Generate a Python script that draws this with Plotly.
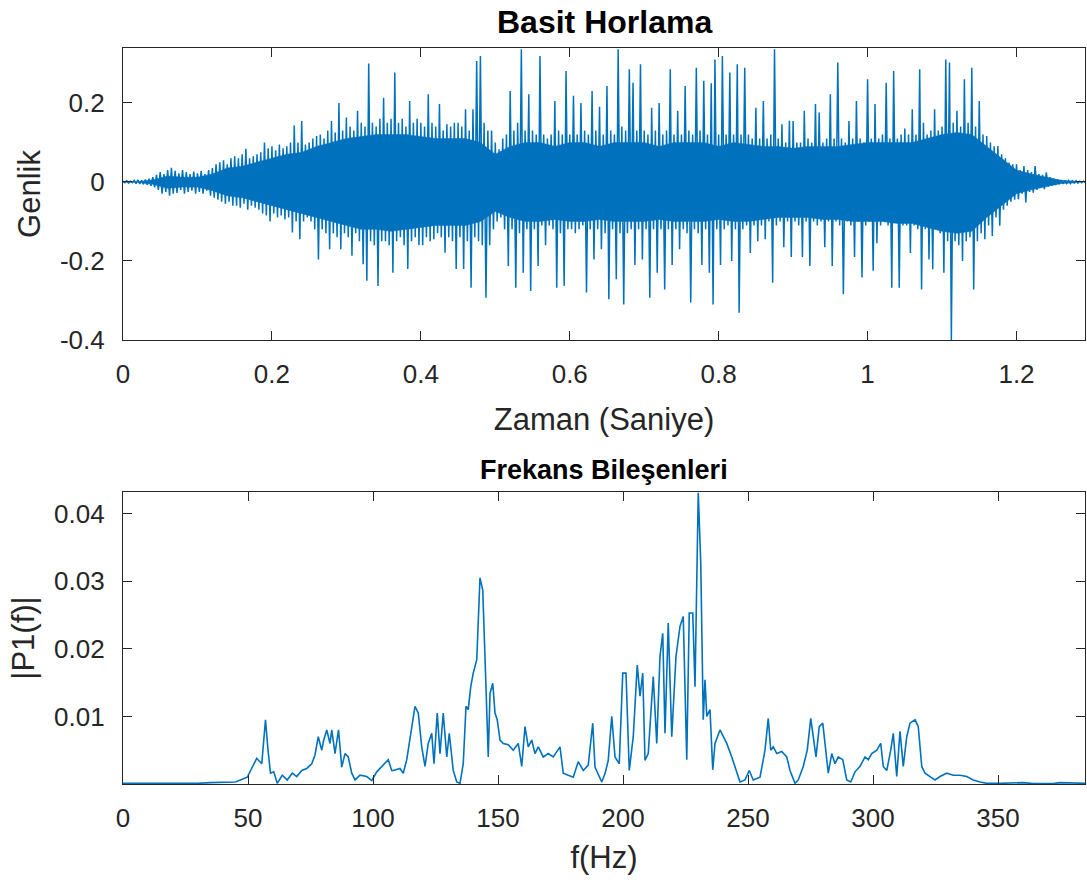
import plotly.graph_objects as go

# ---------------- data: time signal (per 0.005 s bin: upper and lower extreme) ----------------
dt = 0.005
sig_hi = [
    0.002, 0.003, 0.002, 0.004, 0.005, 0.004, 0.006, 0.008, 0.012, 0.018,
    0.025, 0.02, 0.03, 0.036, 0.028, 0.022, 0.03, 0.025, 0.02, 0.026,
    0.022, 0.028, 0.02, 0.03, 0.035, 0.045, 0.05, 0.055, 0.045, 0.06,
    0.065, 0.06, 0.07, 0.084, 0.06, 0.065, 0.07, 0.075, 0.10, 0.085,
    0.09, 0.08, 0.095, 0.085, 0.09, 0.1, 0.143, 0.1, 0.154, 0.095,
    0.1, 0.11, 0.116, 0.12, 0.11, 0.13, 0.154, 0.125, 0.20, 0.13,
    0.163, 0.14, 0.13, 0.18, 0.15, 0.14, 0.30, 0.15, 0.14, 0.16,
    0.213, 0.15, 0.16, 0.277, 0.15, 0.16, 0.14, 0.205, 0.15, 0.16,
    0.15, 0.14, 0.222, 0.15, 0.14, 0.197, 0.13, 0.146, 0.14, 0.15,
    0.15, 0.14, 0.184, 0.13, 0.184, 0.306, 0.319, 0.15, 0.13, 0.13,
    0.1, 0.083, 0.11, 0.12, 0.23, 0.13, 0.15, 0.336, 0.13, 0.222,
    0.13, 0.12, 0.319, 0.12, 0.11, 0.12, 0.205, 0.13, 0.12, 0.281,
    0.12, 0.218, 0.12, 0.2, 0.13, 0.12, 0.23, 0.13, 0.19, 0.12,
    0.243, 0.13, 0.12, 0.336, 0.14, 0.13, 0.285, 0.251, 0.13, 0.298,
    0.13, 0.12, 0.188, 0.13, 0.2, 0.12, 0.13, 0.285, 0.12, 0.18,
    0.12, 0.243, 0.13, 0.12, 0.289, 0.13, 0.256, 0.12, 0.25, 0.31,
    0.12, 0.319, 0.12, 0.277, 0.12, 0.298, 0.12, 0.289, 0.12, 0.11,
    0.188, 0.11, 0.205, 0.11, 0.12, 0.336, 0.11, 0.146, 0.1, 0.155,
    0.154, 0.1, 0.1, 0.18, 0.11, 0.1, 0.197, 0.176, 0.1, 0.11,
    0.222, 0.11, 0.302, 0.11, 0.1, 0.154, 0.11, 0.205, 0.11, 0.1,
    0.26, 0.11, 0.197, 0.11, 0.12, 0.251, 0.11, 0.281, 0.11, 0.12,
    0.135, 0.12, 0.184, 0.12, 0.285, 0.15, 0.12, 0.13, 0.184, 0.13,
    0.14, 0.31, 0.302, 0.15, 0.18, 0.14, 0.26, 0.15, 0.289, 0.14,
    0.205, 0.12, 0.116, 0.1, 0.09, 0.091, 0.07, 0.06, 0.049, 0.045,
    0.045, 0.03, 0.04, 0.03, 0.025, 0.04, 0.02, 0.018, 0.024, 0.012,
    0.008, 0.006, 0.005, 0.004, 0.004, 0.003, 0.003, 0.002, 0.002,
]
sig_lo = [
    -0.002, -0.003, -0.002, -0.004, -0.005, -0.006, -0.007, -0.01, -0.014, -0.02,
    -0.03, -0.025, -0.035, -0.03, -0.028, -0.02, -0.03, -0.025, -0.022, -0.03,
    -0.025, -0.03, -0.022, -0.035, -0.04, -0.045, -0.05, -0.055, -0.05, -0.06,
    -0.06, -0.065, -0.055, -0.07, -0.06, -0.065, -0.07, -0.08, -0.085, -0.10,
    -0.08, -0.09, -0.085, -0.095, -0.09, -0.128, -0.1, -0.145, -0.1, -0.09,
    -0.1, -0.12, -0.196, -0.12, -0.13, -0.17, -0.13, -0.14, -0.17, -0.13,
    -0.14, -0.187, -0.13, -0.15, -0.208, -0.25, -0.15, -0.16, -0.263, -0.15,
    -0.15, -0.16, -0.23, -0.15, -0.14, -0.16, -0.22, -0.15, -0.14, -0.16,
    -0.16, -0.14, -0.15, -0.145, -0.13, -0.14, -0.179, -0.14, -0.15, -0.22,
    -0.14, -0.22, -0.15, -0.268, -0.14, -0.15, -0.16, -0.293, -0.16, -0.12,
    -0.1, -0.09, -0.12, -0.213, -0.12, -0.268, -0.13, -0.23, -0.12, -0.276,
    -0.12, -0.213, -0.11, -0.16, -0.11, -0.12, -0.268, -0.13, -0.263, -0.12,
    -0.12, -0.13, -0.12, -0.11, -0.28, -0.12, -0.196, -0.12, -0.17, -0.13,
    -0.297, -0.12, -0.246, -0.13, -0.31, -0.13, -0.12, -0.21, -0.12, -0.196,
    -0.12, -0.293, -0.12, -0.23, -0.12, -0.272, -0.12, -0.21, -0.12, -0.17,
    -0.12, -0.13, -0.305, -0.12, -0.13, -0.21, -0.12, -0.23, -0.31, -0.12,
    -0.21, -0.12, -0.11, -0.2, -0.12, -0.331, -0.12, -0.11, -0.18, -0.11,
    -0.15, -0.11, -0.145, -0.1, -0.255, -0.11, -0.1, -0.165, -0.1, -0.19,
    -0.1, -0.11, -0.19, -0.1, -0.213, -0.1, -0.11, -0.1, -0.165, -0.1,
    -0.213, -0.1, -0.11, -0.284, -0.1, -0.11, -0.19, -0.1, -0.242, -0.11,
    -0.1, -0.225, -0.155, -0.11, -0.1, -0.11, -0.268, -0.1, -0.268, -0.11,
    -0.11, -0.18, -0.11, -0.12, -0.272, -0.12, -0.196, -0.221, -0.12, -0.13,
    -0.23, -0.15, -0.40, -0.15, -0.16, -0.2, -0.15, -0.14, -0.272, -0.15,
    -0.13, -0.145, -0.11, -0.137, -0.09, -0.111, -0.07, -0.06, -0.05, -0.045,
    -0.044, -0.03, -0.052, -0.025, -0.027, -0.02, -0.015, -0.018, -0.012, -0.01,
    -0.008, -0.006, -0.005, -0.004, -0.004, -0.003, -0.003, -0.002, -0.002,
]

# dense core of the waveform (where the oscillation is too fast to resolve), every 0.02 s
core_t = [round(0.02 * i, 2) for i in range(65)]
core_hi = [
    0.0, 0.001, 0.005, 0.015, 0.012, 0.012, 0.02, 0.035, 0.04, 0.05,
    0.06, 0.07, 0.075, 0.09, 0.1, 0.11, 0.115, 0.12, 0.12, 0.12,
    0.115, 0.11, 0.11, 0.11, 0.1, 0.07, 0.09, 0.1, 0.1, 0.09,
    0.1, 0.1, 0.09, 0.1, 0.1, 0.1, 0.09, 0.1, 0.1, 0.1,
    0.09, 0.1, 0.095, 0.09, 0.09, 0.085, 0.09, 0.09, 0.09, 0.095,
    0.1, 0.1, 0.1, 0.1, 0.11, 0.12, 0.125, 0.12, 0.09, 0.06,
    0.03, 0.02, 0.012, 0.004, 0.002,
]
core_lo = [
    0.0, -0.001, -0.006, -0.016, -0.013, -0.013, -0.022, -0.035, -0.04, -0.05,
    -0.06, -0.07, -0.08, -0.09, -0.1, -0.11, -0.12, -0.12, -0.125, -0.12,
    -0.115, -0.11, -0.11, -0.11, -0.1, -0.075, -0.09, -0.1, -0.1, -0.095,
    -0.1, -0.1, -0.095, -0.1, -0.1, -0.1, -0.095, -0.1, -0.1, -0.1,
    -0.095, -0.1, -0.1, -0.095, -0.09, -0.09, -0.09, -0.095, -0.095, -0.1,
    -0.1, -0.1, -0.105, -0.105, -0.115, -0.125, -0.13, -0.125, -0.09, -0.06,
    -0.03, -0.02, -0.012, -0.004, -0.002,
]

# ---------------- data: single-sided amplitude spectrum ----------------
spec_f = [
    0, 10, 20, 30, 35, 40, 45, 49.7, 52, 53.5, 55.5, 57, 58, 59, 60.3, 61.7, 63.7, 65.7,
    67.7, 69.5, 71.5, 73.5, 75.5, 76.8, 78.1, 79.5, 80.3, 81.5, 82.8, 83.5, 84.8, 86.2,
    87.5, 88.8, 90.1, 91.5, 92.8, 94.8, 97.5, 99.5, 101.5, 103.5, 105.5, 106.1, 107.5,
    108.1, 110.8, 112.1, 113.5, 115.5, 116.8, 118.1, 119.5, 120.8, 122.1, 123.5, 124.4,
    125.7, 126.8, 128.1, 129.5, 130.5, 132.1, 133.5, 134.8, 136.1, 137.2, 138.1, 139.1,
    140.1, 141.5, 142.8, 143.9, 145.1, 146.1, 146.8, 147.9, 148.8, 149.7, 150.8, 152.1,
    154.1, 156.1, 158.1, 159.5, 160.8, 162.1, 163.5, 164.8, 166.1, 168.1, 170.1, 172.1,
    174.8, 176.1, 178.1, 180.1, 182.1, 184.1, 186.1, 187.9, 188.8, 190.1, 191.5, 192.8,
    194.1, 195.5, 196.8, 198.5, 199.9, 201.2, 202.5, 204.1, 205.7, 206.8, 207.9, 208.8,
    210.1, 212.1, 213.5, 214.8, 215.9, 216.8, 218.1, 219.5, 221.2, 222.8, 224.1, 225.5,
    226.5, 227.9, 228.8, 230.1, 231.1, 232.1, 232.8, 233.5, 234.8, 235.9, 236.8, 238.8,
    240.1, 241.5, 243.5, 244.8, 246.8, 248.8, 250.5, 252.1, 254.8, 256.8, 258.1, 259.1,
    260.1, 261.5, 263.5, 265.5, 266.8, 268.8, 270.1, 272.1, 273.7, 275.1, 276.1, 277.2,
    278.5, 279.9, 280.8, 282.1, 283.5, 284.8, 286.1, 287.9, 289.5, 291.1, 292.8, 294.8,
    296.8, 298.1, 299.5, 301.5, 303.1, 304.1, 305.5, 307.1, 308.1, 309.5, 310.8, 312.1,
    313.5, 314.8, 316.8, 318.1, 319.5, 320.8, 322.8, 324.8, 326.8, 329.5, 332.1, 334.8,
    337.5, 340.1, 342.8, 345.5, 350.8, 356.1, 360.1, 364.1, 372.1, 374.8, 380.1, 384.8,
]
spec_v = [
    0.0001, 0.0001, 0.00005, 0.0001, 0.0002, 0.0002, 0.0003, 0.001, 0.0026, 0.0038, 0.003,
    0.0095, 0.005, 0.0016, 0.0018, 0.0001, 0.0013, 0.0006,
    0.0016, 0.0011, 0.002, 0.0023, 0.003, 0.0043, 0.007, 0.005, 0.0065, 0.008, 0.006, 0.008,
    0.0045, 0.008,
    0.0025, 0.0045, 0.004, 0.0016, 0.0006, 0.0013, 0.0011, 0.0005, 0.0018, 0.0026, 0.0033,
    0.0036, 0.002,
    0.002, 0.0023, 0.0016, 0.0036, 0.008, 0.0115, 0.0105, 0.0055, 0.0026, 0.006, 0.0075,
    0.003,
    0.0105, 0.0045, 0.0105, 0.004, 0.0075, 0.002, 0.0003, 0.0001, 0.003, 0.0115, 0.011,
    0.0144,
    0.0164, 0.0184, 0.0305, 0.0287, 0.0154, 0.004, 0.0134, 0.0149, 0.0105, 0.0095, 0.0065,
    0.006,
    0.0058, 0.005, 0.006, 0.0026, 0.0085, 0.0055, 0.0065, 0.0045, 0.0055, 0.004, 0.0045,
    0.004,
    0.0055, 0.0016, 0.0013, 0.001, 0.0033, 0.002, 0.0028, 0.009, 0.0025, 0.0015, 0.0003,
    0.0015,
    0.0035, 0.01, 0.004, 0.003, 0.0164, 0.0164, 0.002, 0.007, 0.0176, 0.013, 0.0164,
    0.0035,
    0.0045, 0.0159, 0.006, 0.0189, 0.0223, 0.0075, 0.0238, 0.007, 0.0189, 0.0233, 0.0248,
    0.0036,
    0.0253, 0.0253, 0.0144, 0.0431, 0.0327, 0.0095, 0.0154, 0.01, 0.011, 0.0021, 0.006,
    0.008,
    0.007, 0.006, 0.004, 0.0026, 0.0003, 0.0006, 0.002, 0.0006, 0.001, 0.005, 0.0097,
    0.005,
    0.0055, 0.0045, 0.0048, 0.004, 0.002, 0.0001, 0.0006, 0.0026, 0.005, 0.0097, 0.007,
    0.004,
    0.0085, 0.009, 0.006, 0.0016, 0.0045, 0.003, 0.004, 0.0036, 0.0006, 0.0003, 0.0018,
    0.0026,
    0.004, 0.0036, 0.0045, 0.005, 0.006, 0.0026, 0.002, 0.005, 0.0075, 0.0011, 0.0078,
    0.0026,
    0.007, 0.009, 0.0095, 0.0085, 0.0026, 0.0016, 0.0011, 0.0006, 0.0011, 0.0016, 0.0013,
    0.0013,
    0.0011, 0.0006, 0.0003, 0.0001, 0.0001, 0.0002, 0.0002, 0.00005, 0.00005, 0.0002,
    0.0002, 0.0001,
]

assert len(sig_hi) == len(sig_lo)
assert len(core_t) == len(core_hi) == len(core_lo)
assert len(spec_f) == len(spec_v)

# tick labels
top_xticks = [0, 0.2, 0.4, 0.6, 0.8, 1.0, 1.2]
top_xtext = ["0", "0.2", "0.4", "0.6", "0.8", "1", "1.2"]
top_yticks = [-0.4, -0.2, 0, 0.2]
top_ytext = ["-0.4", "-0.2", "0", "0.2"]
bot_xticks = [0, 50, 100, 150, 200, 250, 300, 350]
bot_xtext = ["0", "50", "100", "150", "200", "250", "300", "350"]
bot_yticks = [0.01, 0.02, 0.03, 0.04]
bot_ytext = ["0.01", "0.02", "0.03", "0.04"]

# interleave upper/lower extremes into one waveform
t_vals, s_vals = [], []
for i, (h, l) in enumerate(zip(sig_hi, sig_lo)):
    t_vals += [i * dt, i * dt + dt / 2]
    s_vals += [h, l]

LINE = "#0072BD"
INK = "#262626"
FONT = "Liberation Sans, Arial, sans-serif"

fig = go.Figure()
# dense core band
fig.add_trace(go.Scatter(x=core_t + core_t[::-1], y=core_hi + core_lo[::-1], mode="lines",
                         fill="toself", fillcolor=LINE, line=dict(color=LINE, width=0.5),
                         xaxis="x", yaxis="y", showlegend=False, hoverinfo="skip"))
fig.add_trace(go.Scatter(x=t_vals, y=s_vals, mode="lines",
                         line=dict(color=LINE, width=1.5), xaxis="x", yaxis="y",
                         showlegend=False, hoverinfo="skip"))
fig.add_trace(go.Scatter(x=spec_f, y=spec_v, mode="lines",
                         line=dict(color=LINE, width=1.6), xaxis="x2", yaxis="y2",
                         showlegend=False, hoverinfo="skip"))

axis_common = dict(showgrid=False, zeroline=False, showline=True, linecolor=INK,
                   linewidth=1.2, ticks="inside", ticklen=9, tickcolor=INK,
                   tickwidth=1.2, mirror="ticks",
                   tickfont=dict(family=FONT, size=26, color=INK))

LABEL_SIZE = 31

top_dom = [(784 - 340) / 736, 1.0]
bot_dom = [0.0, (784 - 492) / 736]

fig.update_layout(
    width=1087, height=883, autosize=False,
    margin=dict(l=123, r=2, t=48, b=99),
    paper_bgcolor="white", plot_bgcolor="white",
    font=dict(family=FONT, color=INK),
    xaxis=dict(domain=[0, 1], range=[0, 1.292], tickvals=top_xticks, ticktext=top_xtext,
               anchor="y", ticklabelstandoff=11,
               title=dict(text="Zaman (Saniye)", font=dict(family=FONT, size=LABEL_SIZE, color=INK),
                          standoff=20),
               **axis_common),
    yaxis=dict(domain=top_dom, range=[-0.4, 0.339], tickvals=top_yticks, ticktext=top_ytext,
               anchor="x", ticklabelstandoff=12,
               title=dict(text="Genlik", font=dict(family=FONT, size=LABEL_SIZE, color=INK),
                          standoff=10),
               **axis_common),
    xaxis2=dict(domain=[0, 1], range=[0, 384.8], tickvals=bot_xticks, ticktext=bot_xtext,
                anchor="y2", ticklabelstandoff=11,
                title=dict(text="f(Hz)", font=dict(family=FONT, size=LABEL_SIZE, color=INK),
                           standoff=14),
                **axis_common),
    yaxis2=dict(domain=bot_dom, range=[0, 0.0432], tickvals=bot_yticks, ticktext=bot_ytext,
                anchor="x2", ticklabelstandoff=12,
                title=dict(text="|P1(f)|", font=dict(family=FONT, size=LABEL_SIZE, color=INK),
                           standoff=10),
                **axis_common),
    annotations=[
        dict(text="<b>Basit Horlama</b>", xref="paper", yref="paper", x=0.5, y=top_dom[1],
             xanchor="center", yanchor="bottom", yshift=6, showarrow=False,
             font=dict(family=FONT, size=32, color="black")),
        dict(text="<b>Frekans Bileşenleri</b>", xref="paper", yref="paper", x=0.5,
             y=bot_dom[1], xanchor="center", yanchor="bottom", yshift=5, showarrow=False,
             font=dict(family=FONT, size=27, color="black")),
    ],
)

fig.write_html("out.html")
